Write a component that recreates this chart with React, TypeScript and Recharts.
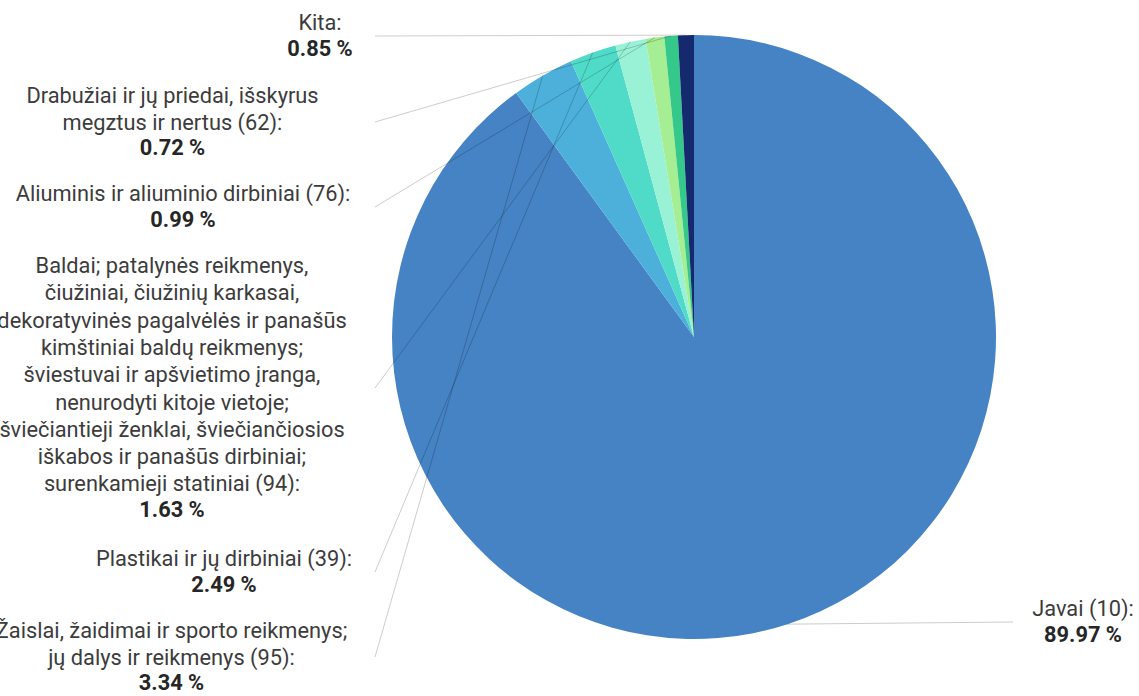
import { PieChart, Pie, Cell } from 'recharts'

const categories = [
  'Javai (10)',
  'Žaislai, žaidimai ir sporto reikmenys;\njų dalys ir reikmenys (95)',
  'Plastikai ir jų dirbiniai (39)',
  'Baldai; patalynės reikmenys,\nčiužiniai, čiužinių karkasai,\ndekoratyvinės pagalvėlės ir panašūs\nkimštiniai baldų reikmenys;\nšviestuvai ir apšvietimo įranga,\nnenurodyti kitoje vietoje;\nšviečiantieji ženklai, šviečiančiosios\niškabos ir panašūs dirbiniai;\nsurenkamieji statiniai (94)',
  'Aliuminis ir aliuminio dirbiniai (76)',
  'Drabužiai ir jų priedai, išskyrus\nmegztus ir nertus (62)',
  'Kita',
]

const shares = [89.97, 3.34, 2.49, 1.63, 0.99, 0.72, 0.85]

const colors = ['#4583c4', '#4cb0da', '#50dbc9', '#99f2d6', '#a6ee93', '#34c98b', '#15296f']

// where each leader line ends and where its text block is centred
const labelLayout = [
  { lx: 1013, ly: 622, tx: 1083 },
  { lx: 375, ly: 657, tx: 171.5 },
  { lx: 375, ly: 572, tx: 224 },
  { lx: 375, ly: 388, tx: 172 },
  { lx: 375, ly: 207, tx: 183 },
  { lx: 375, ly: 122, tx: 172.5 },
  { lx: 375, ly: 36, tx: 320 },
]

const data = categories.map((name, i) => ({ name, value: shares[i] }))

const RAD = Math.PI / 180
const NAME_STEP = 27.3
const VALUE_STEP = 25.5

function renderLabel(props: any) {
  const { cx, cy, midAngle, outerRadius, index } = props
  const pos = labelLayout[index]
  const sx = cx + outerRadius * Math.cos(-midAngle * RAD)
  const sy = cy + outerRadius * Math.sin(-midAngle * RAD)
  const lines = (categories[index] + ':').split('\n')
  const total = (lines.length - 1) * NAME_STEP + VALUE_STEP
  const first = pos.ly - total / 2 + 7
  return (
    <g key={`lbl-${index}`}>
      <line x1={sx} y1={sy} x2={pos.lx} y2={pos.ly} stroke="#000" strokeOpacity={0.2} strokeWidth={1} />
      <text x={pos.tx} y={first} textAnchor="middle" fontFamily="Roboto" fontSize={21.8}>
        {lines.map((ln, k) => (
          <tspan key={k} x={pos.tx} y={first + k * NAME_STEP} fill="#3c3c3c">
            {ln}
          </tspan>
        ))}
        <tspan
          x={pos.tx}
          y={first + (lines.length - 1) * NAME_STEP + VALUE_STEP}
          fill="#262626"
          fontWeight={700}
        >
          {shares[index].toFixed(2) + ' %'}
        </tspan>
      </text>
    </g>
  )
}

export default function App() {
  return (
    <div style={{ position: 'absolute', left: 0, top: 0, width: 1139, height: 696, background: '#fff' }}>
      <PieChart width={1139} height={696} margin={{ top: 0, right: 0, bottom: 0, left: 0 }}>
        <Pie
          data={data}
          dataKey="value"
          nameKey="name"
          cx={694}
          cy={337}
          outerRadius={302}
          startAngle={90}
          endAngle={-270}
          stroke="none"
          label={renderLabel}
          labelLine={false}
          isAnimationActive={false}
        >
          {data.map((d, i) => (
            <Cell key={d.name} fill={colors[i]} />
          ))}
        </Pie>
      </PieChart>
    </div>
  )
}
